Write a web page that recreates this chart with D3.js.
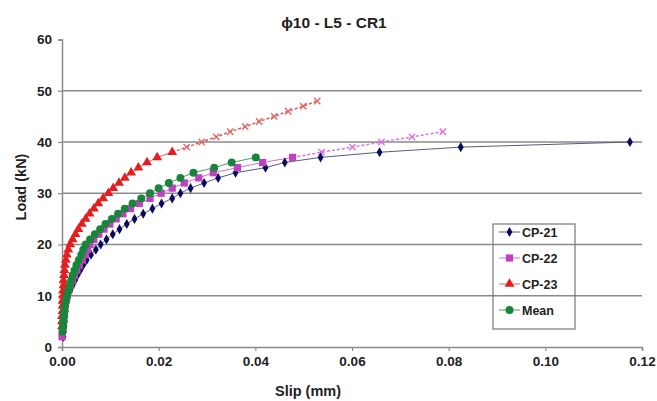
<!DOCTYPE html>
<html><head><meta charset="utf-8">
<script src="https://cdn.jsdelivr.net/npm/d3@7"></script>
<style>body{margin:0;background:#fff;} text{font-family:"Liberation Sans",Arial,sans-serif;font-weight:bold;}</style>
</head><body><svg id="c" width="657" height="401"></svg>
<script>
// Load steps (kN)
const loads21 = [2,3,4,5,6,7,8,9,10,11,12,13,14,15,16,17,18,19,20,21,22,23,24,25,26,27,28,29,30,31,32,33,34,35,36,37,38,39,40];
const slip21  = [0.0003,0.0004,0.0005,0.0006,0.0007,0.0008,0.0009,0.0011,0.0013,0.0017,0.0022,0.0027,0.0032,0.0038,0.0044,0.0051,0.0060,0.0070,0.0080,0.0092,0.0105,0.0119,0.0134,0.0150,0.0168,0.0187,0.0206,0.0228,0.0245,0.0266,0.0294,0.0323,0.0359,0.0421,0.0461,0.0535,0.0657,0.0825,0.1175];
const loads22 = [2,3,4,5,6,7,8,9,10,11,12,13,14,15,16,17,18,19,20,21,22,23,24,25,26,27,28,29,30,31,32,33,34,35,36,37];
const slip22  = [0.0000,0.0001,0.0002,0.0003,0.0004,0.0005,0.0006,0.0008,0.0011,0.0014,0.0018,0.0022,0.0026,0.0031,0.0036,0.0042,0.0048,0.0053,0.0058,0.0066,0.0076,0.0087,0.0099,0.0112,0.0126,0.0142,0.0160,0.0182,0.0205,0.0228,0.0253,0.0283,0.0313,0.0363,0.0415,0.0477];
const loads22ext = [37,38,39,40,41,42];
const slip22ext  = [0.0477,0.0537,0.0601,0.0661,0.0724,0.0788];
const loads23 = [4,5,6,7,8,9,10,11,12,13,14,15,16,17,18,19,20,21,22,23,24,25,26,27,28,29,30,31,32,33,34,35,36,37,38];
const slip23  = [0.0000,0.0000,0.0000,0.0001,0.0001,0.0001,0.0002,0.0002,0.0003,0.0003,0.0004,0.0005,0.0006,0.0008,0.0010,0.0013,0.0017,0.0022,0.0028,0.0034,0.0041,0.0049,0.0057,0.0066,0.0075,0.0085,0.0096,0.0106,0.0118,0.0130,0.0143,0.0158,0.0176,0.0197,0.0228];
const loads23ext = [38,39,40,41,42,43,44,45,46,47,48];
const slip23ext  = [0.0228,0.0258,0.0289,0.0319,0.0348,0.0379,0.0408,0.0439,0.0468,0.0499,0.0528];
const loadsMean = [3,4,5,6,7,8,9,10,11,12,13,14,15,16,17,18,19,20,21,22,23,24,25,26,27,28,29,30,31,32,33,34,35,36,37];
const slipMean  = [0.0001,0.0002,0.0003,0.0004,0.0005,0.0006,0.0008,0.0010,0.0013,0.0016,0.0019,0.0022,0.0026,0.0030,0.0035,0.0040,0.0044,0.0049,0.0058,0.0068,0.0079,0.0090,0.0103,0.0116,0.0130,0.0146,0.0164,0.0182,0.0200,0.0221,0.0245,0.0272,0.0315,0.0351,0.0401];
const xTicks = [0,0.02,0.04,0.06,0.08,0.10,0.12];
const yTicks = [0,10,20,30,40,50,60];
const seriesNames = ["CP-21","CP-22","CP-23","Mean"];

const svg = d3.select("#c");
const x = d3.scaleLinear().domain([0,0.12]).range([62,642]);
const y = d3.scaleLinear().domain([0,60]).range([347,39.5]);

// gridlines
svg.append("g").selectAll("line").data(yTicks.filter(d=>d>0&&d<60)).join("line")
  .attr("x1",x(0)).attr("x2",x(0.12)).attr("y1",d=>y(d)).attr("y2",d=>y(d))
  .attr("stroke","#8a8a8a").attr("stroke-width",1.5);

// axes
const xAxis = svg.append("g").attr("transform",`translate(0,${y(0)})`)
  .call(d3.axisBottom(x).tickValues(xTicks).tickFormat(d3.format(".2f")).tickSize(4).tickPadding(5));
const yAxis = svg.append("g").attr("transform",`translate(${x(0)},0)`)
  .call(d3.axisLeft(y).tickValues(yTicks).tickFormat(d3.format("d")).tickSize(4).tickPadding(6));
[xAxis,yAxis].forEach(a=>{
  a.select(".domain").attr("stroke","#8a8a8a").attr("stroke-width",1.5);
  a.selectAll(".tick line").attr("stroke","#8a8a8a").attr("stroke-width",1.2);
  a.selectAll("text").attr("font-size",13.5).attr("fill","#222").attr("font-family","Liberation Sans, Arial").attr("font-weight","bold");
});

const line = d3.line().x(d=>x(d[0])).y(d=>y(d[1]));
const zip = (s,l)=>s.map((v,i)=>[v,l[i]]);

const d21 = zip(slip21,loads21), d22 = zip(slip22,loads22), d23 = zip(slip23,loads23), dM = zip(slipMean,loadsMean);
const d22e = zip(slip22ext,loads22ext), d23e = zip(slip23ext,loads23ext);

// extension dashed
svg.append("path").datum(d22e).attr("d",line).attr("fill","none").attr("stroke","#e070d8").attr("stroke-width",1.5).attr("stroke-dasharray","3,2");
svg.append("path").datum(d23e).attr("d",line).attr("fill","none").attr("stroke","#e05a5a").attr("stroke-width",1.5).attr("stroke-dasharray","3,2");
const xMark = (g,data,col)=>{
  g.selectAll("path.xm").data(data.slice(1)).join("path").attr("class","xm")
   .attr("d",d3.symbol(d3.symbolTimes,28)).attr("transform",d=>`translate(${x(d[0])},${y(d[1])})`)
   .attr("fill","none").attr("stroke",col).attr("stroke-width",1.3);
};
xMark(svg.append("g"),d22e,"#e070d8");
xMark(svg.append("g"),d23e,"#e86060");

const series = [
  {data:d21, color:"#0a0a5e", line:"#5a5a80", sym:d3.symbolDiamond, size:30},
  {data:d22, color:"#c040c0", line:"#d070d0", sym:d3.symbolSquare, size:52},
  {data:d23, color:"#e41e1e", line:"#e86060", sym:d3.symbolTriangle, size:42},
  {data:dM, color:"#17863a", line:"#4aa060", sym:d3.symbolCircle, size:50}
];
series.forEach(s=>{
  svg.append("path").datum(s.data).attr("d",line).attr("fill","none").attr("stroke",s.line).attr("stroke-width",1);
});
series.forEach(s=>{
  svg.append("g").selectAll("path").data(s.data).join("path")
    .attr("d",d3.symbol(s.sym,s.size)).attr("transform",d=>`translate(${x(d[0])},${y(d[1])})`)
    .attr("fill",s.color);
});

// title & labels
svg.append("text").attr("x",334).attr("y",28).attr("text-anchor","middle").attr("font-size",15.5).attr("fill","#222").text("ϕ10 - L5 - CR1");
svg.append("text").attr("x",308).attr("y",396).attr("text-anchor","middle").attr("font-size",14.5).attr("fill","#222").text("Slip (mm)");
svg.append("text").attr("transform","translate(26,187) rotate(-90)").attr("text-anchor","middle").attr("font-size",14.5).attr("fill","#222").text("Load (kN)");

// legend
const lg = svg.append("g");
lg.append("rect").attr("x",493).attr("y",224).attr("width",82).attr("height",105).attr("fill","none").attr("stroke","#777").attr("stroke-width",1.2);
series.forEach((s,i)=>{
  const yy = 232 + i*26;
  lg.append("line").attr("x1",499).attr("x2",520).attr("y1",yy).attr("y2",yy).attr("stroke",s.line).attr("stroke-width",1);
  lg.append("path").attr("d",d3.symbol(s.sym,s.size)).attr("transform",`translate(509.5,${yy})`).attr("fill",s.color);
  lg.append("text").attr("x",522).attr("y",yy+4.5).attr("font-size",12.5).attr("fill","#222").text(seriesNames[i]);
});
</script></body></html>
